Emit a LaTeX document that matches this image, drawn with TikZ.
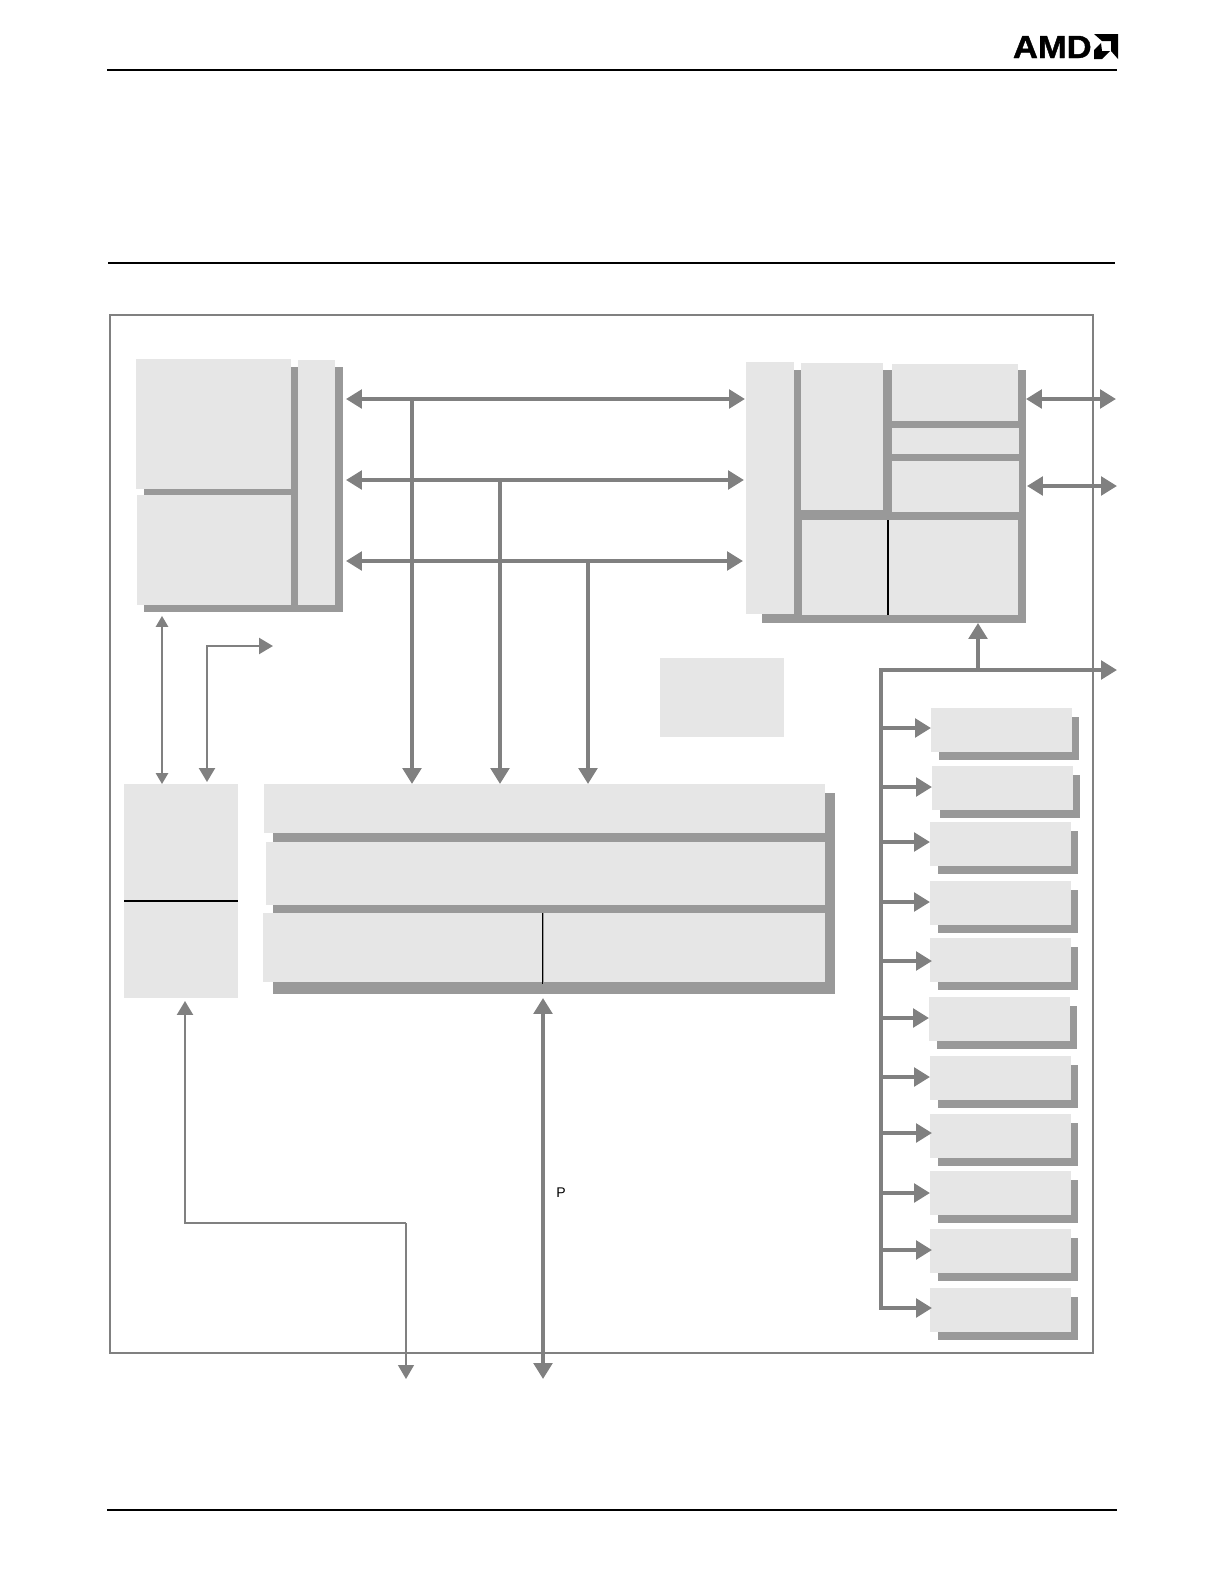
\documentclass[tikz,border=0pt]{standalone}
\usepackage{xcolor}
\usepackage{fontspec}
\setmainfont{Liberation Sans}
\newfontfamily\amdfont[BoldFeatures={FakeBold=1.2}]{Liberation Sans}
\usetikzlibrary{arrows.meta,positioning,shadows}

\definecolor{panelgray}{HTML}{E6E6E6}
\definecolor{shadowgray}{HTML}{999999}
\definecolor{linegray}{HTML}{808080}

\begin{document}
\begin{tikzpicture}[
  x=0.02cm, y=-0.02cm,
  panel/.style={rectangle, fill=panelgray, inner sep=0pt, outer sep=0pt, anchor=north west},
  backing/.style={panel, fill=shadowgray},
  perbox/.style={panel, minimum width=2.82cm, minimum height=0.88cm, drop shadow={shadow xshift=0.15cm, shadow yshift=-0.17cm, shadow scale=0.99, opacity=1, fill=shadowgray}},
  rulerline/.style={line width=1.3pt, black},
  divider/.style={line width=0.8pt, black},
  hairdivider/.style={line width=0.6pt, black},
  bus/.style={line width=2.5pt, linegray, {Triangle[length=0.32cm, width=0.37cm]}-{Triangle[length=0.32cm, width=0.37cm]}},
  busin/.style={line width=2.5pt, linegray, -{Triangle[length=0.32cm, width=0.37cm]}},
  wire/.style={line width=1.3pt, linegray, -{Triangle[length=0.28cm, width=0.32cm]}},
  finewire/.style={line width=0.8pt, linegray, {Triangle[length=0.22cm, width=0.25cm]}-{Triangle[length=0.22cm, width=0.25cm]}}
]
\useasboundingbox (0,0) rectangle (1224,1582);

\coordinate (rulelefttop) at (107,70);
\coordinate (rulerighttop) at (1117,70);
\coordinate (rulelefthead) at (108,263);
\coordinate (rulerighthead) at (1115,263);
\coordinate (ruleleftfoot) at (107,1510);
\coordinate (rulerightfoot) at (1117,1510);
\draw[rulerline] (rulelefttop) -- (rulerighttop);
\draw[line width=0.9pt, black] (rulelefthead) -- (rulerighthead);
\draw[rulerline] (ruleleftfoot) -- (rulerightfoot);

\node[anchor=east, inner sep=0pt, xscale=1.08, font=\amdfont\bfseries\fontsize{18.2}{20}\selectfont] (amdtext) at (1092,47) {AMD};
\fill[black] (1094,34) -- (1118,34) -- (1118,59) -- (1111,51) -- (1111,41) -- (1102,41) -- cycle;
\fill[black] (1094,59) -- (1094,50) -- (1101,43) -- (1102,51) -- (1110,51) -- (1102,59) -- cycle;

\node[panel, fill=none, draw=linegray, line width=1pt, minimum width=19.66cm, minimum height=20.76cm] (frame) at (110,315) {};

\node[backing, minimum width=3.98cm, minimum height=4.90cm] (lshadow) at (144,367) {};
\node[panel, minimum width=3.10cm, minimum height=2.60cm] (ltop) at (136,359) {};
\node[panel, minimum width=3.08cm, minimum height=2.20cm] (lbot) at (137,495) {};
\node[panel, minimum width=0.74cm, minimum height=4.90cm] (ltall) at (298,360) {};

\node[backing, minimum width=5.28cm, minimum height=5.06cm] (rshadow) at (762,370) {};
\node[panel, minimum width=0.96cm, minimum height=5.04cm] (rtall) at (746,362) {};
\node[panel, minimum width=1.64cm, minimum height=2.94cm] (rcol) at (801,363) {};
\node[panel, minimum width=2.52cm, minimum height=1.14cm] (rtop) at (892,364) {};
\node[panel, minimum width=2.54cm, minimum height=0.52cm] (rmid) at (892,428) {};
\node[panel, minimum width=2.54cm, minimum height=1.02cm] (rlow) at (892,461) {};
\node[panel, minimum width=1.72cm, minimum height=1.90cm] (rbl) at (802,520) {};
\node[panel, minimum width=2.58cm, minimum height=1.90cm] (rbr) at (889,520) {};

\node[panel, minimum width=2.48cm, minimum height=1.58cm] (center) at (660,658) {};

\node[panel, minimum width=2.28cm, minimum height=2.34cm] (lcoltop) at (124,784) {};
\node[panel, minimum width=2.28cm, minimum height=1.94cm] (lcolbot) at (124,901) {};

\node[backing, minimum width=11.24cm, minimum height=4.02cm] (mshadow) at (273,793) {};
\node[panel, minimum width=11.22cm, minimum height=0.98cm] (mtop) at (264,784) {};
\node[panel, minimum width=11.18cm, minimum height=1.26cm] (mmid) at (266,842) {};
\node[panel, minimum width=5.60cm, minimum height=1.38cm] (mbl) at (263,913) {};
\node[panel, minimum width=5.62cm, minimum height=1.38cm] (mbr) at (544,913) {};

\node[perbox] (per1) at (931,708) {};
\node[perbox, below right=0.28cm and 0.02cm of per1.south west] (per2) {};
\node[perbox, below right=0.24cm and -0.04cm of per2.south west] (per3) {};
\node[perbox, below right=0.30cm and 0cm of per3.south west] (per4) {};
\node[perbox, below right=0.26cm and 0cm of per4.south west] (per5) {};
\node[perbox, below right=0.30cm and -0.02cm of per5.south west] (per6) {};
\node[perbox, below right=0.30cm and 0.02cm of per6.south west] (per7) {};
\node[perbox, below right=0.28cm and 0cm of per7.south west] (per8) {};
\node[perbox, below right=0.26cm and 0cm of per8.south west] (per9) {};
\node[perbox, below right=0.28cm and 0cm of per9.south west] (per10) {};
\node[perbox, below right=0.30cm and 0cm of per10.south west] (per11) {};

\draw[divider] (rbl.north east) -- (rbl.south east);
\draw[hairdivider] (lcoltop.south west) -- (lcoltop.south east);
\draw[hairdivider] (mbl.north east) -- ([yshift=-0.04cm]mbl.south east);

\coordinate (tap1) at (412,399);
\coordinate (tap2) at (500,480);
\coordinate (tap3) at (588,561);
\coordinate (tap4) at (978,670);
\coordinate (trunktop) at (881,670);
\coordinate (trunkend) at (881,1308);
\coordinate (sysout) at (1117,670);
\coordinate (romout) at (1116,399);
\coordinate (ramout) at (1117,486);
\coordinate (l2out) at (273,646);
\coordinate (bend) at (406,1223);
\coordinate (jtagout) at (406,1379);
\coordinate (pciout) at (543,1379);

\draw[bus, shorten <=0.06cm, shorten >=0.02cm] (lshadow.east |- tap1) -- (rtall.west |- tap1);
\draw[bus, shorten <=0.06cm, shorten >=0.04cm] (lshadow.east |- tap2) -- (rtall.west |- tap2);
\draw[bus, shorten <=0.06cm, shorten >=0.06cm] (lshadow.east |- tap3) -- (rtall.west |- tap3);
\draw[busin] (tap1) -- (mtop.north -| tap1);
\draw[busin] (tap2) -- (mtop.north -| tap2);
\draw[busin] (tap3) -- (mtop.north -| tap3);

\draw[bus] (rshadow.east |- romout) -- (romout);
\draw[bus, shorten <=0.02cm] (rshadow.east |- ramout) -- (ramout);
\draw[busin] (tap4) -- (rshadow.south -| tap4);
\draw[busin, line cap=rect] (trunkend) -- (trunktop) -- (sysout);

\draw[busin] (trunktop |- 0,728) -- (per1.west |- 0,728);
\draw[busin] (trunktop |- 0,787) -- (per2.west |- 0,787);
\draw[busin] (trunktop |- 0,842) -- (per3.west |- 0,842);
\draw[busin] (trunktop |- 0,902) -- (per4.west |- 0,902);
\draw[busin] (trunktop |- 0,961) -- ([xshift=0.04cm]per5.west |- 0,961);
\draw[busin] (trunktop |- 0,1018) -- (per6.west |- 0,1018);
\draw[busin] (trunktop |- 0,1077) -- (per7.west |- 0,1077);
\draw[busin] (trunktop |- 0,1133) -- ([xshift=0.04cm]per8.west |- 0,1133);
\draw[busin] (trunktop |- 0,1193) -- (per9.west |- 0,1193);
\draw[busin] (trunktop |- 0,1250) -- ([xshift=0.04cm]per10.west |- 0,1250);
\draw[busin] (trunkend) -- ([xshift=0.04cm]per11.west |- trunkend);

\draw[finewire, shorten <=0.08cm] (lshadow.south -| 162,0) -- (lcoltop.north -| 162,0);
\draw[wire, {Triangle[length=0.28cm, width=0.32cm]}-{Triangle[length=0.28cm, width=0.32cm]}, shorten <=0.04cm] (lcoltop.north -| 207,0) |- (l2out);

\draw[bus, shorten <=0.08cm] (mshadow.south -| pciout) -- (pciout);
\node[inner sep=0pt, font=\fontsize{8}{10}\selectfont] (pcilabel) at (561,1193) {P};

\draw[wire, {Triangle[length=0.28cm, width=0.32cm]}-, shorten <=0.06cm] (lcolbot.south -| 185,0) |- (bend);
\draw[line width=0.7pt, linegray, -{Triangle[length=0.28cm, width=0.32cm]}] (bend) -- (jtagout);
\end{tikzpicture}
\end{document}
